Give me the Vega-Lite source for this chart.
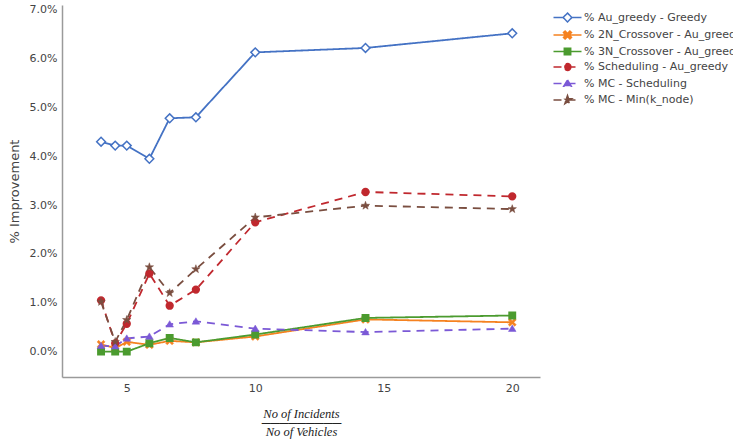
{
  "$schema": "https://vega.github.io/schema/vega-lite/v6.json",
  "width": 478,
  "height": 372,
  "autosize": {"type": "none"},
  "padding": {"left": 62, "top": 5, "right": 193, "bottom": 62},
  "background": "white",
  "config": {
    "view": {"stroke": null},
    "font": "DejaVu Sans",
    "axis": {"grid": false, "ticks": false, "domainColor": "#9a9a9a", "domainWidth": 1.5, "labelColor": "#444", "labelFont": "DejaVu Sans", "labelFontSize": 11, "titleColor": "#444", "labelPadding": 5},
    "point": {"filled": true, "size": 64, "strokeWidth": 1.5, "opacity": 1}
  },
  "data": {"values": [
    {"series": "% Au_greedy - Greedy", "x": 4, "y": 4.30},
    {"series": "% Au_greedy - Greedy", "x": 4.55, "y": 4.22},
    {"series": "% Au_greedy - Greedy", "x": 5, "y": 4.22},
    {"series": "% Au_greedy - Greedy", "x": 5.88, "y": 3.95},
    {"series": "% Au_greedy - Greedy", "x": 6.67, "y": 4.78},
    {"series": "% Au_greedy - Greedy", "x": 7.69, "y": 4.80},
    {"series": "% Au_greedy - Greedy", "x": 10, "y": 6.13},
    {"series": "% Au_greedy - Greedy", "x": 14.29, "y": 6.22},
    {"series": "% Au_greedy - Greedy", "x": 20, "y": 6.52},
    {"series": "% 2N_Crossover - Au_greedy", "x": 4, "y": 0.15},
    {"series": "% 2N_Crossover - Au_greedy", "x": 4.55, "y": 0.07},
    {"series": "% 2N_Crossover - Au_greedy", "x": 5, "y": 0.20},
    {"series": "% 2N_Crossover - Au_greedy", "x": 5.88, "y": 0.14},
    {"series": "% 2N_Crossover - Au_greedy", "x": 6.67, "y": 0.22},
    {"series": "% 2N_Crossover - Au_greedy", "x": 7.69, "y": 0.19},
    {"series": "% 2N_Crossover - Au_greedy", "x": 10, "y": 0.31},
    {"series": "% 2N_Crossover - Au_greedy", "x": 14.29, "y": 0.66},
    {"series": "% 2N_Crossover - Au_greedy", "x": 20, "y": 0.60},
    {"series": "% 3N_Crossover - Au_greedy", "x": 4, "y": 0.00},
    {"series": "% 3N_Crossover - Au_greedy", "x": 4.55, "y": 0.00},
    {"series": "% 3N_Crossover - Au_greedy", "x": 5, "y": 0.00},
    {"series": "% 3N_Crossover - Au_greedy", "x": 5.88, "y": 0.17},
    {"series": "% 3N_Crossover - Au_greedy", "x": 6.67, "y": 0.28},
    {"series": "% 3N_Crossover - Au_greedy", "x": 7.69, "y": 0.19},
    {"series": "% 3N_Crossover - Au_greedy", "x": 10, "y": 0.35},
    {"series": "% 3N_Crossover - Au_greedy", "x": 14.29, "y": 0.69},
    {"series": "% 3N_Crossover - Au_greedy", "x": 20, "y": 0.74},
    {"series": "% Scheduling - Au_greedy", "x": 4, "y": 1.05},
    {"series": "% Scheduling - Au_greedy", "x": 4.55, "y": 0.17},
    {"series": "% Scheduling - Au_greedy", "x": 5, "y": 0.57},
    {"series": "% Scheduling - Au_greedy", "x": 5.88, "y": 1.60},
    {"series": "% Scheduling - Au_greedy", "x": 6.67, "y": 0.94},
    {"series": "% Scheduling - Au_greedy", "x": 7.69, "y": 1.27},
    {"series": "% Scheduling - Au_greedy", "x": 10, "y": 2.65},
    {"series": "% Scheduling - Au_greedy", "x": 14.29, "y": 3.27},
    {"series": "% Scheduling - Au_greedy", "x": 20, "y": 3.18},
    {"series": "% MC - Scheduling", "x": 4, "y": 0.12},
    {"series": "% MC - Scheduling", "x": 4.55, "y": 0.11},
    {"series": "% MC - Scheduling", "x": 5, "y": 0.27},
    {"series": "% MC - Scheduling", "x": 5.88, "y": 0.31},
    {"series": "% MC - Scheduling", "x": 6.67, "y": 0.56},
    {"series": "% MC - Scheduling", "x": 7.69, "y": 0.62},
    {"series": "% MC - Scheduling", "x": 10, "y": 0.47},
    {"series": "% MC - Scheduling", "x": 14.29, "y": 0.40},
    {"series": "% MC - Scheduling", "x": 20, "y": 0.47},
    {"series": "% MC - Min(k_node)", "x": 4, "y": 1.02},
    {"series": "% MC - Min(k_node)", "x": 4.55, "y": 0.20},
    {"series": "% MC - Min(k_node)", "x": 5, "y": 0.65},
    {"series": "% MC - Min(k_node)", "x": 5.88, "y": 1.73},
    {"series": "% MC - Min(k_node)", "x": 6.67, "y": 1.20},
    {"series": "% MC - Min(k_node)", "x": 7.69, "y": 1.69},
    {"series": "% MC - Min(k_node)", "x": 10, "y": 2.75},
    {"series": "% MC - Min(k_node)", "x": 14.29, "y": 2.99},
    {"series": "% MC - Min(k_node)", "x": 20, "y": 2.92}
  ]},
  "encoding": {
    "x": {"field": "x", "type": "quantitative", "scale": {"domain": [2.48, 21.08], "nice": false, "zero": false},
      "axis": {"values": [5, 10, 15, 20], "title": ["No of Incidents", "─────────", "No of Vehicles"], "titleFont": "Liberation Serif", "titleFontStyle": "italic", "titleFontWeight": "normal", "titleFontSize": 12.5, "titleLineHeight": 9, "titlePadding": 14, "titleColor": "#222"}},
    "y": {"field": "y", "type": "quantitative", "scale": {"domain": [-0.52, 7.1], "nice": false, "zero": false},
      "axis": {"values": [0, 1, 2, 3, 4, 5, 6, 7], "labelExpr": "format(datum.value, '.1f') + '%'", "title": "% Improvement", "titleFont": "DejaVu Sans", "titleFontWeight": "normal", "titleFontSize": 13, "titlePadding": 8}}
  },
  "layer": [
    {
      "mark": {"type": "line", "strokeWidth": 1.8},
      "encoding": {
        "color": {"field": "series", "type": "nominal",
          "scale": {"domain": ["% Au_greedy - Greedy", "% 2N_Crossover - Au_greedy", "% 3N_Crossover - Au_greedy", "% Scheduling - Au_greedy", "% MC - Scheduling", "% MC - Min(k_node)"],
                    "range": ["#4472C4", "#F58220", "#4B9B2F", "#C0282E", "#7B59D6", "#7A4E40"]},
          "legend": {"title": null, "orient": "none", "legendX": 500, "legendY": 7, "labelFont": "DejaVu Sans", "labelFontSize": 11, "labelColor": "#444", "labelLimit": 400, "labelOffset": 11, "symbolSize": 64, "symbolStrokeWidth": 1.5, "rowPadding": 2.5, "padding": 0,
            "encode": {"symbols": {"update": {
              "shape": {"signal": "['M-3.5,0L-1.1,0M1.1,0L3.5,0M-1.1,0L0,-1.1L1.1,0L0,1.1Z','M-3.5,0L3.5,0M-1,-0.6L-0.6,-1L0,-0.4L0.6,-1L1,-0.6L0.4,0L1,0.6L0.6,1L0,0.4L-0.6,1L-1,0.6L-0.4,0Z','M-3.5,0L3.5,0M-0.8,-0.8L0.8,-0.8L0.8,0.8L-0.8,0.8Z','M-3.5,0L3.5,0M0.85,0A0.85,0.85 0 1,1 -0.85,0A0.85,0.85 0 1,1 0.85,0Z','M-3.5,0L3.5,0M0,-0.9L0.95,0.7L-0.95,0.7Z','M-3.5,0L3.5,0M0,-1.1L0.26,-0.36L1.05,-0.34L0.42,0.14L0.65,0.89L0,0.44L-0.65,0.89L-0.42,0.14L-1.05,-0.34L-0.26,-0.36Z'][indexof(['% Au_greedy - Greedy','% 2N_Crossover - Au_greedy','% 3N_Crossover - Au_greedy','% Scheduling - Au_greedy','% MC - Scheduling','% MC - Min(k_node)'], datum.value)]"},
              "fill": {"signal": "datum.value === '% Au_greedy - Greedy' ? 'white' : scale('color', datum.value)"},
              "stroke": {"signal": "scale('color', datum.value)"},
              "strokeWidth": {"value": 1.5},
              "opacity": {"value": 1}
            }}}}
        },
        "strokeDash": {"field": "series", "type": "nominal",
          "scale": {"domain": ["% Au_greedy - Greedy", "% 2N_Crossover - Au_greedy", "% 3N_Crossover - Au_greedy", "% Scheduling - Au_greedy", "% MC - Scheduling", "% MC - Min(k_node)"],
                    "range": [[1, 0], [1, 0], [1, 0], [8, 6], [8, 6], [8, 6]]}}
      }
    },
    {"transform": [{"filter": "datum.series === '% Au_greedy - Greedy'"}], "mark": {"type": "point", "shape": "M-1.1,0L0,-1.1L1.1,0L0,1.1Z", "fill": "white", "stroke": "#4472C4"}},
    {"transform": [{"filter": "datum.series === '% 2N_Crossover - Au_greedy'"}], "mark": {"type": "point", "shape": "M-1,-0.6L-0.6,-1L0,-0.4L0.6,-1L1,-0.6L0.4,0L1,0.6L0.6,1L0,0.4L-0.6,1L-1,0.6L-0.4,0Z", "fill": "#F58220", "stroke": "#F58220", "strokeWidth": 0.5}},
    {"transform": [{"filter": "datum.series === '% 3N_Crossover - Au_greedy'"}], "mark": {"type": "point", "shape": "M-0.8,-0.8L0.8,-0.8L0.8,0.8L-0.8,0.8Z", "fill": "#4B9B2F", "stroke": "#4B9B2F"}},
    {"transform": [{"filter": "datum.series === '% Scheduling - Au_greedy'"}], "mark": {"type": "point", "shape": "M0.85,0A0.85,0.85 0 1,1 -0.85,0A0.85,0.85 0 1,1 0.85,0Z", "fill": "#C0282E", "stroke": "#C0282E"}},
    {"transform": [{"filter": "datum.series === '% MC - Scheduling'"}], "mark": {"type": "point", "shape": "M0,-0.9L0.95,0.7L-0.95,0.7Z", "fill": "#7B59D6", "stroke": "#7B59D6", "strokeWidth": 0.5}},
    {"transform": [{"filter": "datum.series === '% MC - Min(k_node)'"}], "mark": {"type": "point", "shape": "M0,-1.1L0.26,-0.36L1.05,-0.34L0.42,0.14L0.65,0.89L0,0.44L-0.65,0.89L-0.42,0.14L-1.05,-0.34L-0.26,-0.36Z", "fill": "#7A4E40", "stroke": "#7A4E40", "strokeWidth": 0.5}}
  ]
}
